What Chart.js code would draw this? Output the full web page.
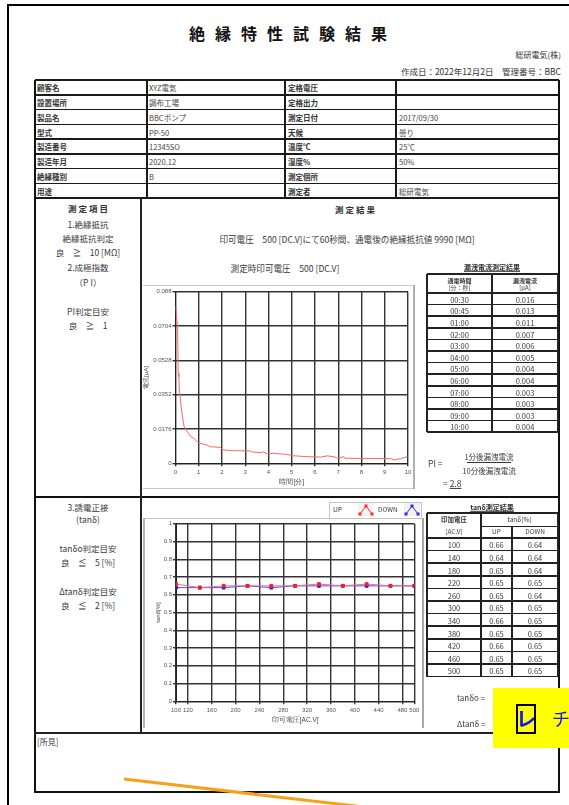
<!DOCTYPE html>
<html lang="ja">
<head>
<meta charset="utf-8">
<title>絶縁特性試験結果</title>
<script src="https://cdn.jsdelivr.net/npm/chart.js@4/dist/chart.umd.min.js"></script>
<style>
  html, body { margin: 0; padding: 0; background: #fff; }
  body { width: 569px; height: 805px; position: relative; overflow: hidden;
         font-family: "Noto Sans CJK JP", "Noto Sans", sans-serif; color: #3a3a3a; }
  .t { position: absolute; white-space: nowrap; line-height: 1.2; }
  .ln { position: absolute; }
  canvas { position: absolute; }
</style>
</head>
<body>
<canvas id="leak" width="272" height="203" style="left:143px;top:285px"></canvas>
<canvas id="tan" width="280" height="207" style="left:143px;top:518px"></canvas>
<script>
// ---- report data ----
const infoRows = [
  ['顧客名', 'XYZ電気', '定格電圧', ''],
  ['設置場所', '調布工場', '定格出力', ''],
  ['製品名', 'BBCポンプ', '測定日付', '2017/09/30'],
  ['型式', 'PP-50', '天候', '曇り'],
  ['製造番号', '12345SO', '温度℃', '25℃'],
  ['製造年月', '2020.12', '湿度%', '50%'],
  ['絶縁種別', 'B', '測定個所', ''],
  ['用途', '', '測定者', '総研電気']
];

// leakage current table
const leakTimes = ['00:30', '00:45', '01:00', '02:00', '03:00', '04:00', '05:00', '06:00', '07:00', '08:00', '09:00', '10:00'];
const leakCurrents = ['0.016', '0.013', '0.011', '0.007', '0.006', '0.005', '0.004', '0.004', '0.003', '0.003', '0.003', '0.004'];

// leakage current trace (minutes, μA)
const curveMinutes = [0.01, 0.06, 0.09, 0.115, 0.145, 0.17, 0.20, 0.26, 0.32, 0.37, 0.43, 0.56, 0.63, 0.78, 0.92, 1.06, 1.35, 1.49, 1.92, 2.07, 2.50, 3.22, 3.29, 3.65, 3.79, 3.94, 4.22, 4.80, 5.01, 5.66, 6.24, 6.52, 6.81, 6.95, 7.24, 7.27, 8.53, 9.25, 9.40, 9.68, 9.97];
const curveMicroAmps = [0.0807, 0.0726, 0.0718, 0.0461, 0.0444, 0.0359, 0.0342, 0.0273, 0.0222, 0.0188, 0.0174, 0.0154, 0.0140, 0.0128, 0.0111, 0.0103, 0.0094, 0.0085, 0.0082, 0.0068, 0.0065, 0.0063, 0.0058, 0.0055, 0.0058, 0.0048, 0.0051, 0.0046, 0.0039, 0.0034, 0.0032, 0.0038, 0.0034, 0.0026, 0.0034, 0.0026, 0.0024, 0.0024, 0.0017, 0.0024, 0.0034];
const minuteTicks = [0, 1, 2, 3, 4, 5, 6, 7, 8, 9, 10];
const currentTicks = [0, 0.0176, 0.0352, 0.0528, 0.0704, 0.088];

// tanδ measurements
const voltages = [100, 140, 180, 220, 260, 300, 340, 380, 420, 460, 500];
const tanUp = [0.66, 0.64, 0.65, 0.65, 0.65, 0.65, 0.66, 0.65, 0.66, 0.65, 0.65];
const tanDown = [0.64, 0.64, 0.64, 0.65, 0.64, 0.65, 0.65, 0.65, 0.65, 0.65, 0.65];
const voltageTicks = [100, 120, 160, 200, 240, 280, 320, 360, 400, 440, 480, 500];
const tanTicks = [0, 0.1, 0.2, 0.3, 0.4, 0.5, 0.6, 0.7, 0.8, 0.9, 1];

// ---- drawing helpers ----
function put(x, y, txt, o = {}) {
  const d = document.createElement('div');
  d.className = 't';
  d.textContent = txt;
  d.style.left = x + 'px';
  d.style.top = y + 'px';
  d.style.fontSize = (o.size || 8) + 'px';
  const ax = o.align === 'center' ? '-50%' : o.align === 'right' ? '-100%' : '0';
  d.style.transform = `translate(${ax},-50%)`;
  if (o.bold) d.style.fontWeight = 'bold';
  if (o.color) d.style.color = o.color;
  if (o.ls) d.style.letterSpacing = o.ls + 'px';
  if (o.ul) d.style.textDecoration = 'underline';
  if (o.family) d.style.fontFamily = o.family;
  document.body.appendChild(d);
  return d;
}
function hl(x1, x2, y, w = 1, c = '#222') {
  const d = document.createElement('div');
  d.className = 'ln';
  Object.assign(d.style, { left: x1 + 'px', top: (y - w / 2) + 'px', width: (x2 - x1) + 'px', height: w + 'px', background: c });
  document.body.appendChild(d);
}
function vl(x, y1, y2, w = 1, c = '#222') {
  const d = document.createElement('div');
  d.className = 'ln';
  Object.assign(d.style, { left: (x - w / 2) + 'px', top: y1 + 'px', width: w + 'px', height: (y2 - y1) + 'px', background: c });
  document.body.appendChild(d);
}

// ---- page frame ----
hl(7, 569, 5, 2, '#000');
vl(8, 4, 805, 2, '#000');

// header
put(293, 34, '絶縁特性試験結果', { size: 16, bold: true, align: 'center', color: '#111', ls: 10 });
put(561, 55, '総研電気(株)', { size: 8, align: 'right', color: '#333' });
put(561, 71, '作成日：2022年12月2日　管理番号：BBC', { size: 8.5, align: 'right', color: '#333' });

// ---- info table ----
const T0 = 80, RH = 14.75, L = 35, R = 559;
const infoCols = [35, 147, 285, 396, 559];
for (let i = 0; i <= infoRows.length; i++) hl(L, R, T0 + i * RH, (i === 0 || i === infoRows.length) ? 2 : 1.5, '#1a1a1a');
infoCols.forEach((x, i) => vl(x, T0, T0 + RH * infoRows.length, (i === 0 || i === 4) ? 2 : 1.5, '#1a1a1a'));
infoRows.forEach((row, i) => {
  const y = T0 + RH * (i + 0.5);
  put(37, y, row[0], { size: 7.5, bold: true, color: '#333' });
  put(149, y, row[1], { size: 7.5, color: '#444' });
  put(288, y, row[2], { size: 7.5, bold: true, color: '#333' });
  put(399, y, row[3], { size: 7.5, color: '#444' });
});

// ---- body frame ----
const BOTTOM = 792;
vl(35, T0, BOTTOM, 2, '#111');
vl(558.5, T0, BOTTOM, 2, '#111');
hl(34, 559.5, BOTTOM, 2, '#111');
hl(34, 559.5, 497, 2, '#111');
hl(34, 559.5, 733, 1.5, '#222');
vl(141, 198, 733, 1.5, '#222');

// ---- section 1/2 : insulation resistance & PI ----
put(88, 208, '測 定 項 目', { size: 8.5, bold: true, align: 'center', color: '#333' });
put(88, 224, '1.絶縁抵抗', { size: 8.5, align: 'center' });
put(88, 238, '絶縁抵抗判定', { size: 8.5, align: 'center' });
put(88, 252, '良　≧　10 [MΩ]', { size: 8.5, align: 'center' });
put(88, 267, '2.成極指数', { size: 8.5, align: 'center' });
put(88, 282, '（P I）', { size: 8.5, align: 'center' });
put(88, 311, 'PI判定目安', { size: 8.5, align: 'center' });
put(88, 325, '良　≧　1', { size: 8.5, align: 'center' });

put(355, 209, '測 定 結 果', { size: 8.5, bold: true, align: 'center', color: '#333' });
put(347, 239, '印可電圧　500 [DC.V]にて60秒間、通電後の絶縁抵抗値 9990 [MΩ]', { size: 8.6, align: 'center' });
put(285, 268, '測定時印可電圧　500 [DC.V]', { size: 8.6, align: 'center' });

// leakage chart frame
hl(143, 415, 285, 1, '#c8c8c8');
hl(143, 415, 488, 1, '#c8c8c8');
vl(414, 285, 489, 2, '#b0b0b0');

// leakage table
put(492, 267, '漏洩電流測定結果', { size: 7, bold: true, align: 'center', ul: true, color: '#333' });
const LT = 274, LH = 293, LR = 11.6, lx = [427, 492, 558];
hl(427, 558, LT, 1.5);
hl(427, 558, LH, 2);
for (let i = 1; i <= leakTimes.length; i++) hl(427, 558, LH + i * LR, 1.5);
lx.forEach(x => vl(x, LT, LH + leakTimes.length * LR, 1.5));
put(459.5, 280.5, '通電時間', { size: 6, bold: true, align: 'center', color: '#333' });
put(459.5, 288, '[分：秒]', { size: 6, align: 'center' });
put(525, 280.5, '漏洩電流', { size: 6, bold: true, align: 'center', color: '#333' });
put(525, 288, '[μA]', { size: 6, align: 'center' });
leakTimes.forEach((t, i) => {
  const y = LH + LR * (i + 0.5);
  put(459.5, y, t, { size: 7.5, align: 'center' });
  put(525, y, leakCurrents[i], { size: 7.5, align: 'center' });
});
put(428, 463, 'PI =', { size: 8.5 });
put(489, 456, '1分後漏洩電流', { size: 7.5, align: 'center' });
hl(467, 511, 462, 1, '#333');
put(489, 470, '10分後漏洩電流', { size: 7.5, align: 'center' });
const pi = put(443, 483, '= ', { size: 8.5 });
const piv = document.createElement('span');
piv.textContent = '2.8';
piv.style.textDecoration = 'underline';
pi.appendChild(piv);

// ---- section 3 : tanδ ----
put(88, 507, '3.誘電正接', { size: 8.5, align: 'center' });
put(88, 519, '(tanδ)', { size: 8.5, align: 'center' });
put(88, 548, 'tanδo判定目安', { size: 8.5, align: 'center' });
put(88, 562, '良　≦　5 [%]', { size: 8.5, align: 'center' });
put(88, 591, 'Δtanδ判定目安', { size: 8.5, align: 'center' });
put(88, 605, '良　≦　2 [%]', { size: 8.5, align: 'center' });

// tanδ chart frame
hl(143, 423, 518, 1, '#c8c8c8');
vl(144, 518, 728, 2, '#b8b8b8');
vl(422.5, 518, 728, 2, '#a8a8a8');

// tanδ legend
(function () {
  const box = document.createElement('div');
  Object.assign(box.style, { position: 'absolute', left: '329px', top: '502px', width: '91px', height: '15px', border: '1px solid #c4c4c4', background: '#fff' });
  document.body.appendChild(box);
  put(333, 510, 'UP', { size: 6.5 });
  put(378, 510, 'DOWN', { size: 6.5 });
  const icon = (x, col) => {
    const s = document.createElementNS('http://www.w3.org/2000/svg', 'svg');
    s.setAttribute('width', '16'); s.setAttribute('height', '13');
    Object.assign(s.style, { position: 'absolute', left: x + 'px', top: '503px', background: '#f2f2f2' });
    s.innerHTML = `<polyline points="2,11 8,3 14,11" fill="none" stroke="${col}" stroke-width="1"/>` +
      `<rect x="0.5" y="9.5" width="3" height="3" fill="${col}"/><rect x="6.5" y="1.5" width="3" height="3" fill="${col}"/><rect x="12.5" y="9.5" width="3" height="3" fill="${col}"/>`;
    document.body.appendChild(s);
  };
  icon(358, '#ff2a2a');
  icon(404, '#2a2aff');
})();

// tanδ table
put(492, 507, 'tanδ測定結果', { size: 7, bold: true, align: 'center', ul: true, color: '#333' });
const TT = 513, TM = 526, TH = 538, TR = 12.6;
hl(427, 558, TT, 1.5);
hl(481, 558, TM, 1);
hl(427, 558, TH, 2);
for (let i = 1; i <= voltages.length; i++) hl(427, 558, TH + i * TR, 1.5);
const tBot = TH + voltages.length * TR;
vl(427, TT, tBot, 1.5); vl(481, TT, tBot, 1.5); vl(512, TM, tBot, 1.5); vl(558, TT, tBot, 1.5);
put(454, 520, '印加電圧', { size: 6.5, bold: true, align: 'center', color: '#333' });
put(454, 532, '[AC.V]', { size: 6.5, align: 'center' });
put(519.5, 520, 'tanδ[%]', { size: 6.5, align: 'center' });
put(496.5, 532, 'UP', { size: 6.5, align: 'center' });
put(535, 532, 'DOWN', { size: 6.5, align: 'center' });
voltages.forEach((v, i) => {
  const y = TH + TR * (i + 0.5);
  put(454, y, String(v), { size: 7.5, align: 'center' });
  put(496.5, y, tanUp[i].toFixed(2), { size: 7.5, align: 'center' });
  put(535, y, tanDown[i].toFixed(2), { size: 7.5, align: 'center' });
});
put(457, 698, 'tanδo = ', { size: 8 });
put(457, 724, 'Δtanδ = ', { size: 8 });

// remarks
put(37, 742, '[所見]', { size: 8 });

// ---- charts ----
const tickFont = { size: 6, family: '"Liberation Sans", "DejaVu Sans", sans-serif' };
const gridStyle = { color: '#333', lineWidth: 1.4, tickLength: 3 };

new Chart(document.getElementById('leak'), {
  type: 'line',
  data: {
    datasets: [{
      data: curveMinutes.map((t, i) => ({ x: t, y: curveMicroAmps[i] })),
      borderColor: '#ff6464', borderWidth: 1, pointRadius: 0, tension: 0
    }]
  },
  options: {
    responsive: false, animation: false, devicePixelRatio: 1,
    layout: { padding: { top: 6.7, right: 7, left: 0, bottom: 0 } },
    plugins: { legend: { display: false }, tooltip: { enabled: false } },
    scales: {
      x: {
        type: 'linear', min: 0, max: 10,
        afterBuildTicks: s => { s.ticks = minuteTicks.map(v => ({ value: v })); },
        afterFit: s => { s.height = 24.7; },
        grid: gridStyle, border: { color: '#222', width: 1 },
        ticks: { font: tickFont, color: '#555', padding: 2, maxRotation: 0, autoSkip: false },
        title: { display: true, text: '時間[分]', font: { size: 6.5 }, color: '#444', padding: { top: 0, bottom: 2 } }
      },
      y: {
        type: 'linear', min: 0, max: 0.088,
        afterBuildTicks: s => { s.ticks = currentTicks.map(v => ({ value: v })); },
        afterFit: s => { s.width = 32.5; },
        grid: gridStyle, border: { color: '#222', width: 1 },
        ticks: { font: tickFont, color: '#555', padding: 1, autoSkip: false, callback: v => String(v) },
        title: { display: true, text: '電流[μA]', font: { size: 6 }, color: '#444', padding: { top: 0, bottom: 0 } }
      }
    }
  }
});

new Chart(document.getElementById('tan'), {
  type: 'line',
  data: {
    datasets: [
      {
        label: 'UP',
        data: voltages.map((v, i) => ({ x: v, y: tanUp[i] })),
        borderColor: '#ff6a6a', borderWidth: 1,
        pointStyle: 'rect', pointRadius: 2, pointBackgroundColor: '#ff1e1e', pointBorderColor: '#ff1e1e',
        tension: 0, order: 1
      },
      {
        label: 'DOWN',
        data: voltages.map((v, i) => ({ x: v, y: tanDown[i] })),
        borderColor: '#4848ff', borderWidth: 1,
        pointStyle: 'rect', pointRadius: 2, pointBackgroundColor: '#1e1eff', pointBorderColor: '#1e1eff',
        tension: 0, order: 2
      }
    ]
  },
  options: {
    responsive: false, animation: false, devicePixelRatio: 1,
    layout: { padding: { top: 5.7, right: 8.7, left: 0, bottom: 0 } },
    plugins: { legend: { display: false }, tooltip: { enabled: false } },
    scales: {
      x: {
        type: 'linear', min: 100, max: 500,
        afterBuildTicks: s => { s.ticks = voltageTicks.map(v => ({ value: v })); },
        afterFit: s => { s.height = 23.7; },
        grid: gridStyle, border: { color: '#222', width: 1 },
        ticks: { font: tickFont, color: '#555', padding: 2, maxRotation: 0, autoSkip: false },
        title: { display: true, text: '印可電圧[AC.V]', font: { size: 6.5 }, color: '#444', padding: { top: 0, bottom: 1 } }
      },
      y: {
        type: 'linear', min: 0, max: 1,
        afterBuildTicks: s => { s.ticks = tanTicks.map(v => ({ value: v })); },
        afterFit: s => { s.width = 33; },
        grid: gridStyle, border: { color: '#222', width: 1 },
        ticks: { font: tickFont, color: '#555', padding: 1, autoSkip: false, callback: v => String(+v.toFixed(1)) },
        title: { display: true, text: 'tanδ[%]', font: { size: 6 }, color: '#444', padding: { top: 11.4, bottom: 0 } }
      }
    }
  }
});

// ---- overlays ----
(function () {
  const y = document.createElement('div');
  Object.assign(y.style, { position: 'absolute', left: '493px', top: '688px', width: '76px', height: '60px', background: '#ffff00' });
  document.body.appendChild(y);
  const b = document.createElement('div');
  Object.assign(b.style, { position: 'absolute', left: '516px', top: '704px', width: '20px', height: '30px', boxSizing: 'border-box', border: '2px solid #000' });
  document.body.appendChild(b);
  put(526, 719, 'レ', { size: 20, bold: true, align: 'center', color: '#1414ff' });
  put(552, 719, 'チ', { size: 18, color: '#1414ff' });

  const s = document.createElementNS('http://www.w3.org/2000/svg', 'svg');
  s.setAttribute('width', '569'); s.setAttribute('height', '805');
  Object.assign(s.style, { position: 'absolute', left: '0', top: '0', pointerEvents: 'none' });
  s.innerHTML = '<line x1="124" y1="779" x2="360" y2="806.5" stroke="#f7a01a" stroke-width="3"/>';
  document.body.appendChild(s);
})();
</script>
</body>
</html>
